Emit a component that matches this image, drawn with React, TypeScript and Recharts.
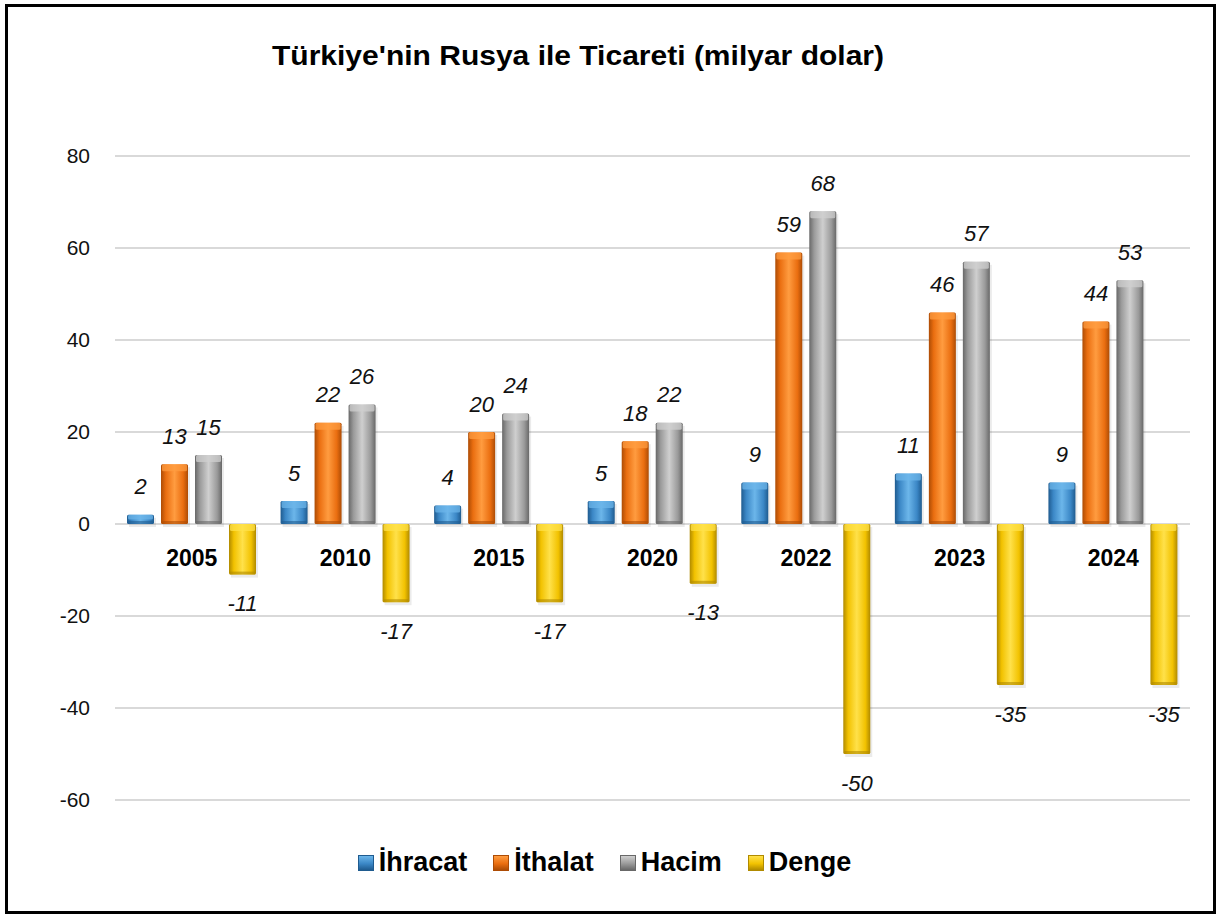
import { BarChart, Bar, XAxis, YAxis, CartesianGrid, LabelList } from "recharts";

const years = ["2005", "2010", "2015", "2020", "2022", "2023", "2024"];
const ihracat = [2, 5, 4, 5, 9, 11, 9];
const ithalat = [13, 22, 20, 18, 59, 46, 44];
const hacim = [15, 26, 24, 22, 68, 57, 53];
const denge = [-11, -17, -17, -13, -50, -35, -35];
const yTicks = [-60, -40, -20, 0, 20, 40, 60, 80];

const SERIES = [
  { key: "ihracat", name: "İhracat", light: "#6cb6ea", mid: "#3b87c6", dark: "#1f5b8f" },
  { key: "ithalat", name: "İthalat", light: "#ff9c40", mid: "#ea6e10", dark: "#ad4c05" },
  { key: "hacim", name: "Hacim", light: "#cfcfcf", mid: "#9a9a9a", dark: "#686868" },
  { key: "denge", name: "Denge", light: "#ffe14a", mid: "#f2c200", dark: "#b08a00" },
];

const data = years.map((year, i) => ({
  year,
  ihracat: ihracat[i],
  ithalat: ithalat[i],
  hacim: hacim[i],
  denge: denge[i],
}));

const W = 1217;
const H = 916;
const PLOT_TOP = 156;
const PLOT_BOTTOM = 800;
const Y_MIN = -60;
const Y_MAX = 80;
const zeroY = PLOT_TOP + ((Y_MAX - 0) / (Y_MAX - Y_MIN)) * (PLOT_BOTTOM - PLOT_TOP);

const FONT = "'Liberation Sans', Arial, sans-serif";

function makeShape(s: (typeof SERIES)[number]) {
  return (props: any) => {
    const { x, y, width, height } = props;
    if (width == null || height == null) return null;
    const top = Math.min(y, y + height);
    const h = Math.abs(height);
    const cap = Math.min(7, h / 2);
    return (
      <g>
        <rect x={x + 2} y={top + 3} width={width} height={h} fill="#000" opacity={0.08} />
        <rect x={x} y={top} width={width} height={h} fill={`url(#grad-${s.key})`} rx={1.5} />
        <rect x={x + 1} y={top} width={width - 2} height={cap} fill={s.light} opacity={0.75} rx={1.5} />
        <rect x={x + 1} y={top + h - Math.min(3, h / 3)} width={width - 2} height={Math.min(3, h / 3)} fill={s.dark} opacity={0.6} />
      </g>
    );
  };
}

const ValueLabel = (props: any) => {
  const { x, y, width, height, value } = props;
  const cx = x + width / 2;
  const top = Math.min(y, y + height);
  const bottom = Math.max(y, y + height);
  const ty = value >= 0 ? top - 28 : bottom + 29;
  return (
    <text
      x={cx}
      y={ty}
      textAnchor="middle"
      dominantBaseline="central"
      fontFamily={FONT}
      fontStyle="italic"
      fontSize={22}
      fill="#111"
    >
      {value}
    </text>
  );
};

const YearTick = (props: any) => {
  const { x, payload } = props;
  return (
    <text
      x={x}
      y={zeroY + 34}
      textAnchor="middle"
      dominantBaseline="central"
      fontFamily={FONT}
      fontWeight="bold"
      fontSize={23}
      fill="#000"
    >
      {payload.value}
    </text>
  );
};

export default function App() {
  return (
    <div style={{ position: "absolute", left: 0, top: 0, width: W, height: H, background: "#fff" }}>
      <BarChart
        width={W}
        height={H}
        data={data}
        margin={{ top: PLOT_TOP, right: 27, left: 0, bottom: H - PLOT_BOTTOM - 30 }}
        barSize={27}
        barGap={7}
      >
        <defs>
          {SERIES.map((s) => (
            <linearGradient key={s.key} id={`grad-${s.key}`} x1="0" y1="0" x2="1" y2="0">
              <stop offset="0%" stopColor={s.dark} />
              <stop offset="18%" stopColor={s.mid} />
              <stop offset="50%" stopColor={s.light} />
              <stop offset="82%" stopColor={s.mid} />
              <stop offset="100%" stopColor={s.dark} />
            </linearGradient>
          ))}
        </defs>
        <CartesianGrid vertical={false} stroke="#d9d9d9" strokeWidth={2} />
        <XAxis
          dataKey="year"
          height={30}
          axisLine={false}
          tickLine={false}
          tick={<YearTick />}
          interval={0}
        />
        <YAxis
          width={115}
          domain={[Y_MIN, Y_MAX]}
          ticks={yTicks}
          interval={0}
          axisLine={false}
          tickLine={false}
          tickSize={0}
          tickMargin={25}
          tick={{ fontFamily: FONT, fontSize: 21, fill: "#111" }}
        />
        {SERIES.map((s) => (
          <Bar
            key={s.key}
            dataKey={s.key}
            name={s.name}
            isAnimationActive={false}
            shape={makeShape(s)}
          >
            <LabelList dataKey={s.key} content={<ValueLabel />} />
          </Bar>
        ))}
      </BarChart>

      <svg
        width={W}
        height={100}
        style={{ position: "absolute", left: 0, top: 0, pointerEvents: "none" }}
      >
        <text
          x={578}
          y={65}
          textAnchor="middle"
          fontFamily={FONT}
          fontWeight="bold"
          fontSize={28}
          textLength={612}
          lengthAdjust="spacingAndGlyphs"
          fill="#000"
        >
          Türkiye'nin Rusya ile Ticareti (milyar dolar)
        </text>
      </svg>

      <div
        style={{
          position: "absolute",
          left: 0,
          top: 847,
          width: W - 8,
          display: "flex",
          justifyContent: "center",
          alignItems: "center",
          gap: 26,
          fontFamily: FONT,
          fontWeight: "bold",
          fontSize: 27,
          color: "#000",
        }}
      >
        {SERIES.map((s) => (
          <div key={s.key} style={{ display: "flex", alignItems: "center", gap: 5 }}>
            <span
              style={{
                display: "inline-block",
                width: 16,
                height: 16,
                background: `linear-gradient(to bottom, ${s.light}, ${s.mid} 55%, ${s.dark})`,
                border: `1px solid ${s.dark}`,
                boxSizing: "border-box",
              }}
            />
            <span>{s.name}</span>
          </div>
        ))}
      </div>

      <div
        style={{
          position: "absolute",
          left: 5,
          top: 4,
          width: 1211,
          height: 910,
          border: "3px solid #000",
          boxSizing: "border-box",
          pointerEvents: "none",
        }}
      />
    </div>
  );
}
